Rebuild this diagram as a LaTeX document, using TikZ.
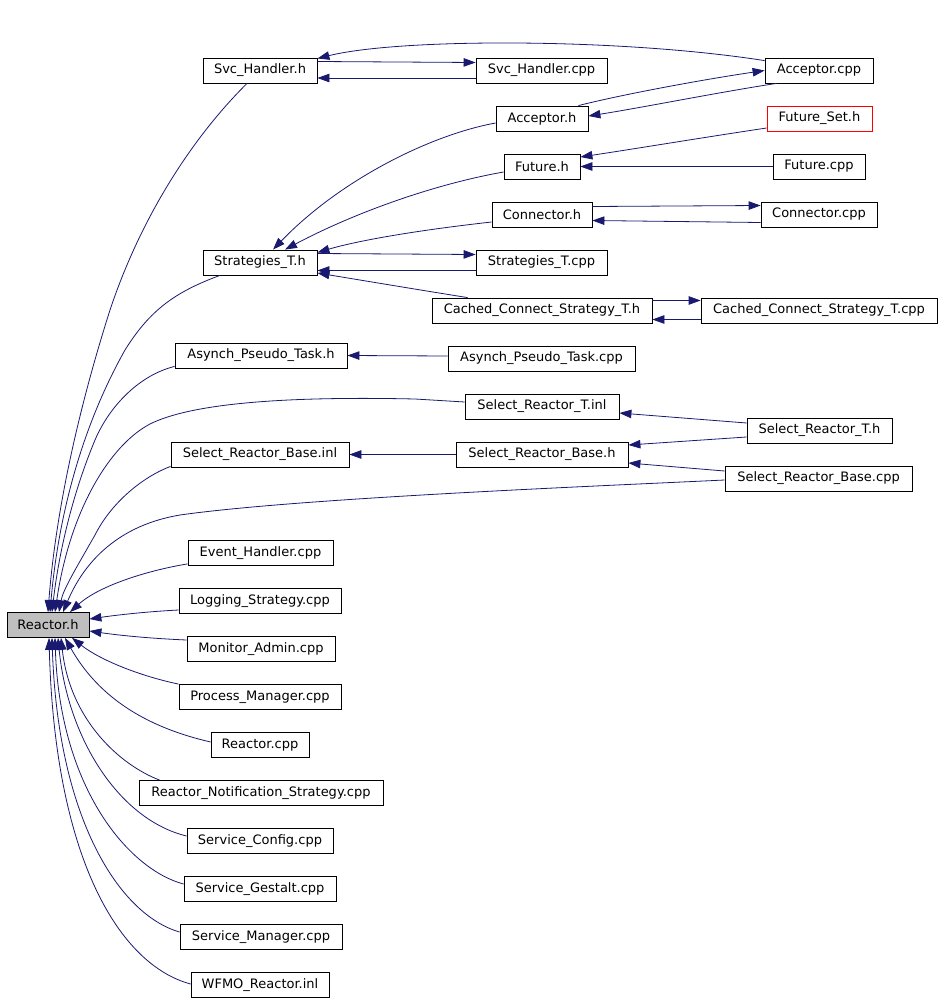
\documentclass[tikz,border=0pt]{standalone}
\usepackage{fontspec}
\setmainfont{DejaVu Sans}
\usetikzlibrary{arrows.meta}
\definecolor{edgeblue}{HTML}{191970}
\definecolor{rootgray}{HTML}{BFBFBF}
\begin{document}
\begin{tikzpicture}[x=1pt,y=-1pt,
  box/.style={draw=black, line width=0.8pt, minimum height=25pt, inner sep=0pt,
    font=\fontsize{13}{15}\selectfont},
  redbox/.style={box, draw=red},
  rootbox/.style={box, fill=rootgray},
  edge/.style={draw=edgeblue, line width=0.8pt, -{Triangle[length=12pt,width=8.5pt]}},
]
\path[use as bounding box] (0,0) rectangle (944,1003);

% nodes
\node[box, minimum width=114pt] (svch) at (260,70.5) {Svc\_Handler.h};
\node[box, minimum width=131pt] (svcc) at (541.5,70.5) {Svc\_Handler.cpp};
\node[box, minimum width=108pt] (accc) at (819,70.5) {Acceptor.cpp};
\node[box, minimum width=92pt] (acch) at (542,118.5) {Acceptor.h};
\node[redbox, minimum width=105pt] (futs) at (819.5,118.5) {Future\_Set.h};
\node[box, minimum width=76pt] (futh) at (542,166.5) {Future.h};
\node[box, minimum width=92pt] (futc) at (819,166.5) {Future.cpp};
\node[box, minimum width=100pt] (conh) at (542,214.5) {Connector.h};
\node[box, minimum width=116pt] (conc) at (819,214.5) {Connector.cpp};
\node[box, minimum width=114pt] (strh) at (260,262.5) {Strategies\_T.h};
\node[box, minimum width=131pt] (strc) at (541.5,262.5) {Strategies\_T.cpp};
\node[box, minimum width=220pt] (cach) at (542,310.5) {Cached\_Connect\_Strategy\_T.h};
\node[box, minimum width=236pt] (cacc) at (819,310.5) {Cached\_Connect\_Strategy\_T.cpp};
\node[box, minimum width=172pt] (asyh) at (261,355.5) {Asynch\_Pseudo\_Task.h};
\node[box, minimum width=187pt] (asyc) at (541.5,358.5) {Asynch\_Pseudo\_Task.cpp};
\node[box, minimum width=154pt] (srti) at (542,406.5) {Select\_Reactor\_T.inl};
\node[box, minimum width=145pt] (srth) at (819.5,430.5) {Select\_Reactor\_T.h};
\node[box, minimum width=172pt] (srbh) at (542,454.5) {Select\_Reactor\_Base.h};
\node[box, minimum width=178pt] (srbi) at (260,454.5) {Select\_Reactor\_Base.inl};
\node[box, minimum width=187pt] (srbc) at (818.5,478.5) {Select\_Reactor\_Base.cpp};
\node[box, minimum width=145pt] (evh) at (260.5,553) {Event\_Handler.cpp};
\node[box, minimum width=162pt] (logs) at (260,601) {Logging\_Strategy.cpp};
\node[rootbox, minimum width=82pt] (reah) at (48,625) {Reactor.h};
\node[box, minimum width=148pt] (mon) at (261,649) {Monitor\_Admin.cpp};
\node[box, minimum width=162pt] (proc) at (260,697) {Process\_Manager.cpp};
\node[box, minimum width=98pt] (reac) at (260,745) {Reactor.cpp};
\node[box, minimum width=244pt] (rns) at (261,793) {Reactor\_Notification\_Strategy.cpp};
\node[box, minimum width=146pt] (scfg) at (260,841) {Service\_Config.cpp};
\node[box, minimum width=152pt] (sgst) at (260,889) {Service\_Gestalt.cpp};
\node[box, minimum width=162pt] (smgr) at (261,937) {Service\_Manager.cpp};
\node[box, minimum width=138pt] (wfmo) at (260,985) {WFMO\_Reactor.inl};

% edges into Reactor.h (top)
\draw[edge] ([xshift=-13pt]svch.south) .. controls (190,140) and (140,220) .. (110,310)
  .. controls (75,420) and (55,520) .. ([xshift=0pt]reah.north);
\draw[edge] ([xshift=-40pt]strh.south) .. controls (175,292) and (150,310) .. (125,350)
  .. controls (80,430) and (58,520) .. ([xshift=2pt]reah.north);
\draw[edge] ([yshift=2pt]asyh.south west) .. controls (140,375) and (110,405) .. (95,440)
  .. controls (70,500) and (58,560) .. ([xshift=4pt]reah.north);
\draw[edge] ([yshift=4.5pt]srti.west) -- (415,399) .. controls (280,396) and (190,404) .. (150,424)
  .. controls (110,445) and (70,510) .. ([xshift=7pt]reah.north);
\draw[edge] ([yshift=1pt]srbi.south west) .. controls (140,478) and (110,505) .. (95,535)
  .. controls (75,570) and (63,590) .. ([xshift=11pt]reah.north);
\draw[edge] ([yshift=-1.5pt]srbc.west) .. controls (600,486) and (300,498) .. (180,515)
  .. controls (120,525) and (85,560) .. ([xshift=15pt]reah.north);
\draw[edge] ([yshift=2pt]evh.south west) .. controls (150,570) and (100,585) .. ([xshift=22pt]reah.north);
% right side
\draw[edge] ([yshift=-9pt]logs.west) .. controls (140,612) and (110,616) .. ([yshift=6pt]reah.east);
\draw[edge] ([yshift=9pt]mon.west) .. controls (140,638) and (110,634) .. ([yshift=-6pt]reah.east);
% bottom
\draw[edge] (proc.north west) .. controls (140,676) and (100,660) .. ([xshift=24pt]reah.south);
\draw[edge] ([yshift=3pt]reac.west) .. controls (150,728) and (100,700) .. ([xshift=17pt]reah.south);
\draw[edge] ([xshift=21pt]rns.north west) .. controls (120,765) and (70,720) .. ([xshift=13pt]reah.south);
\draw[edge] ([yshift=5pt]scfg.west) .. controls (120,820) and (68,740) .. ([xshift=10pt]reah.south);
\draw[edge] ([yshift=5pt]sgst.west) .. controls (130,870) and (60,790) .. ([xshift=7pt]reah.south);
\draw[edge] ([yshift=5pt]smgr.west) .. controls (120,915) and (58,820) .. ([xshift=4pt]reah.south);
\draw[edge] ([yshift=1pt]wfmo.west) .. controls (120,965) and (55,860) .. ([xshift=1pt]reah.south);

% upper cluster
\draw[edge] ([yshift=9pt]svch.east) -- ([yshift=8pt]svcc.west);
\draw[edge] ([yshift=-7.5pt]svcc.west) -- ([yshift=-7.5pt]svch.east);
\draw[edge] ([yshift=-3pt]accc.north west) .. controls (620,38) and (400,38) .. ([yshift=12pt]svch.east);
\draw[edge] ([xshift=-10pt]acch.north east) .. controls (620,95) and (700,80) .. (accc.west);
\draw[edge] ([xshift=12pt]accc.south west) .. controls (720,92) and (640,108) .. ([yshift=2.5pt]acch.east);
\draw[edge] ([yshift=-4.5pt]acch.west) .. controls (430,135) and (340,180) .. ([xshift=13pt]strh.north);
\draw[edge] ([yshift=-5.5pt]futh.west) .. controls (430,185) and (350,215) .. ([xshift=25pt]strh.north);
\draw[edge] ([yshift=-7.5pt]conh.west) .. controls (420,230) and (360,240) .. ([yshift=10pt]strh.east);
\draw[edge] ([yshift=9pt]strh.east) -- ([yshift=8pt]strc.west);
\draw[edge] ([yshift=-8pt]strc.west) -- ([yshift=-8pt]strh.east);
\draw[edge] ([xshift=36pt]cach.north west) .. controls (420,290) and (360,280) .. ([yshift=-10.5pt]strh.east);
\draw[edge] ([yshift=-9.5pt]futs.west) .. controls (700,138) and (640,148) .. ([yshift=9.5pt]futh.east);
\draw[edge] (futc.west) -- (futh.east);
\draw[edge] ([yshift=8pt]conh.east) -- ([yshift=9pt]conc.west);
\draw[edge] ([yshift=-8pt]conc.west) -- ([yshift=-6pt]conh.east);
\draw[edge] ([yshift=10pt]cach.east) -- ([yshift=10pt]cacc.west);
\draw[edge] ([yshift=-9pt]cacc.west) -- ([yshift=-9pt]cach.east);
\draw[edge] ([yshift=2.5pt]asyc.west) -- (asyh.east);
\draw[edge] ([yshift=7.5pt]srth.west) -- ([yshift=-6.5pt]srti.east);
\draw[edge] ([yshift=-6.5pt]srth.west) -- ([yshift=9.5pt]srbh.east);
\draw[edge] ([yshift=7.5pt]srbc.west) -- ([yshift=-8.5pt]srbh.east);
\draw[edge] (srbh.west) -- (srbi.east);
\end{tikzpicture}
\end{document}
